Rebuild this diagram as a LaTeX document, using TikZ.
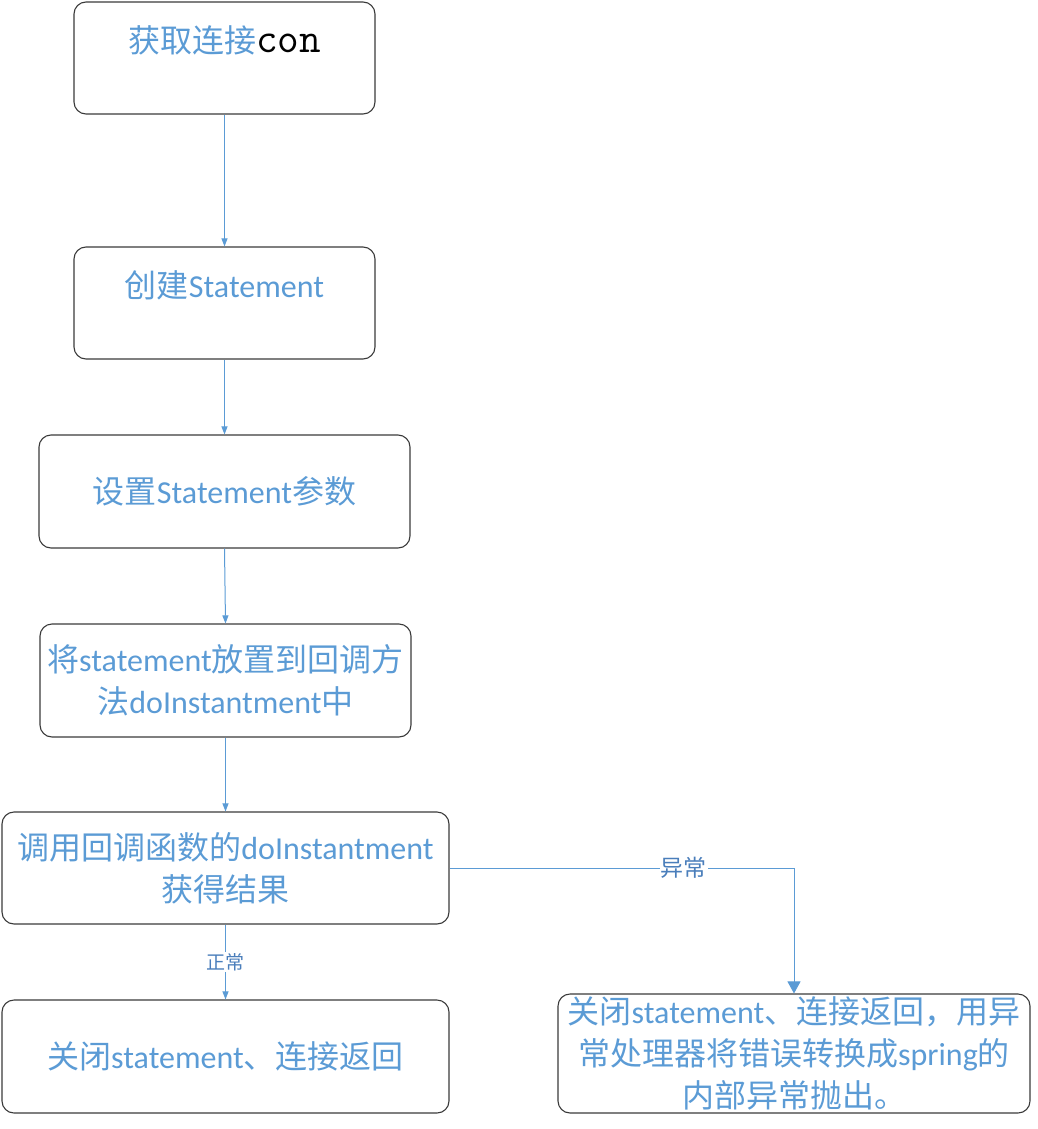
\documentclass[tikz,border=0pt]{standalone}
\usepackage{fontspec}
\setmainfont{Carlito}
\newfontfamily\cjk{Noto Sans CJK SC}
\usetikzlibrary{arrows.meta}
\definecolor{flowblue}{HTML}{5B9BD5}
\definecolor{labelblue}{HTML}{4A7EBB}
\definecolor{frame}{HTML}{3A3A3A}
\newcommand{\zh}[1]{{\cjk #1}}
\begin{document}
\begin{tikzpicture}[x=1pt,y=-1pt,
  box/.style={draw=frame,line width=1.1pt,rounded corners=12pt,inner sep=0pt},
  txt/.style={text=flowblue,font=\fontsize{32}{42}\selectfont,align=center,inner sep=0pt},
  flow/.style={draw=flowblue,line width=1pt,-{Triangle[length=8pt,width=6pt]}},
  bigflow/.style={draw=flowblue,line width=1pt,-{Triangle[length=12pt,width=13pt]}},
  lbl/.style={fill=white,text=labelblue,font=\cjk\fontsize{19}{24}\selectfont,inner sep=1pt}]
\useasboundingbox (0,0) rectangle (1038,1129);

% flow boxes
\node[box,minimum width=301pt,minimum height=112pt] (b1) at (224.5,58) {};
\node[box,minimum width=301pt,minimum height=112pt] (b2) at (224.5,303) {};
\node[box,minimum width=371pt,minimum height=113pt,txt] (b3) at (224.5,491.5)
  {\zh{设置}Statement\zh{参数}};
\node[box,minimum width=371pt,minimum height=113pt,txt] (b4) at (225.5,680.5)
  {\zh{将}statement\zh{放置到回调方}\\\zh{法}doInstantment\zh{中}};
\node[box,minimum width=447pt,minimum height=112pt,txt] (b5) at (225.5,868)
  {\zh{调用回调函数的}doInstantment\\\zh{获得结果}};
\node[box,minimum width=447pt,minimum height=113pt,txt] (b6) at (225.5,1056.5)
  {\zh{关闭}statement\zh{、连接返回}};
\node[box,minimum width=472pt,minimum height=119pt,txt] (b7) at (794,1053.5)
  {\zh{关闭}statement\zh{、连接返回，用异}\\\zh{常处理器将错误转换成}spring\zh{的}\\\zh{内部异常抛出。}};

% top-aligned captions of the first two boxes
\node[txt] (t1) at (224.5,40) {\zh{获取连接}{\ttfamily\fontsize{42}{42}\selectfont\color{black}con}};
\node[txt] (t2) at (224.5,285) {\zh{创建}Statement};

% connectors
\draw[flow] (b1.south) -- (b2.north);
\draw[flow] (b2.south) -- (b3.north);
\draw[flow] (b3.south) -- (b4.north);
\draw[flow] (b4.south) -- (b5.north);
\draw[flow] (b5.south) -- node[lbl] (l1) {正常} (b6.north);
\draw[bigflow] (b5.east) -- node[lbl,pos=0.68,font=\cjk\fontsize{23}{26}\selectfont] (l2) {异常} (b5.east -| b7.north) -- (b7.north);
\end{tikzpicture}
\end{document}
